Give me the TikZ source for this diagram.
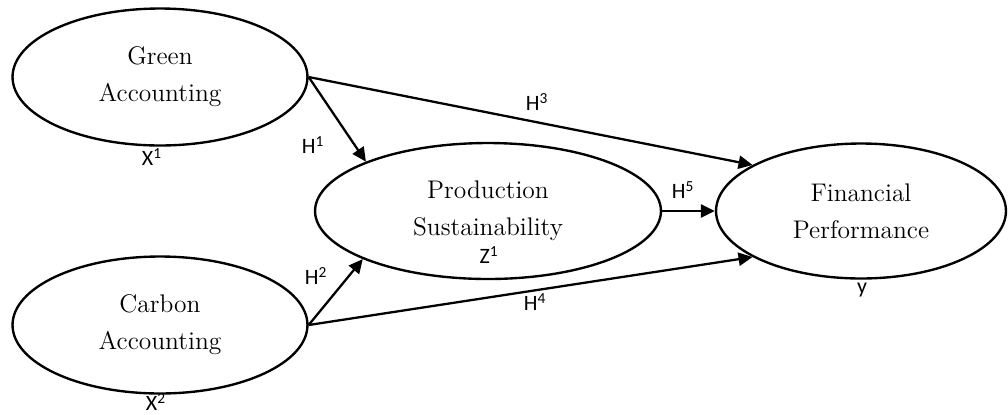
\documentclass[tikz,border=0pt]{standalone}
\usepackage{fontspec}
\newfontfamily\tagfont{Carlito}
\usetikzlibrary{shapes.geometric, arrows.meta}

\begin{document}
\begin{tikzpicture}[x=0.02cm, y=-0.02cm,
construct/.style={ellipse, draw=black, line width=1.35pt, inner sep=0pt,
minimum width=5.9cm, minimum height=2.74cm, align=center,
font=\fontsize{14.5}{21}\selectfont},
arrow/.style={-{Triangle[length=8pt, width=7.5pt]}, line width=1.3pt},
tag/.style={font=\tagfont\fontsize{12.5}{14}\selectfont, inner sep=0pt}]
\useasboundingbox (0,0) rectangle (1008,414);
\node[construct] (green) at (160,77) {Green\\Accounting};
\node[construct] (carbon) at (160,325) {Carbon\\Accounting};
\node[construct, minimum width=6.92cm, minimum height=2.72cm] (prod) at (488,211)
    {Production\\Sustainability};
\node[construct, minimum width=5.8cm, minimum height=2.7cm] (fin) at (861,211)
    {Financial\\Performance};
\draw[arrow] (green.east)  -- (prod.158);
\draw[arrow] (green.east)  -- (fin.157);
\draw[arrow] (carbon.east) -- (prod.201);
\draw[arrow] (carbon.east) -- (fin.203);
\draw[arrow] (prod.east)   -- (fin.west);
\node[tag] (x1) at (152,157) {X\textsuperscript{1}};
\node[tag] (x2) at (156,402) {X\textsuperscript{2}};
\node[tag] (z1) at (489,255) {Z\textsuperscript{1}};
\node[tag] (y)  at (862,290) {y};
\node[tag] (h1) at (313,145) {H\textsuperscript{1}};
\node[tag] (h2) at (316,276) {H\textsuperscript{2}};
\node[tag] (h3) at (537,102) {H\textsuperscript{3}};
\node[tag] (h4) at (535,302) {H\textsuperscript{4}};
\node[tag] (h5) at (683,190) {H\textsuperscript{5}};
\end{tikzpicture}
\end{document}
